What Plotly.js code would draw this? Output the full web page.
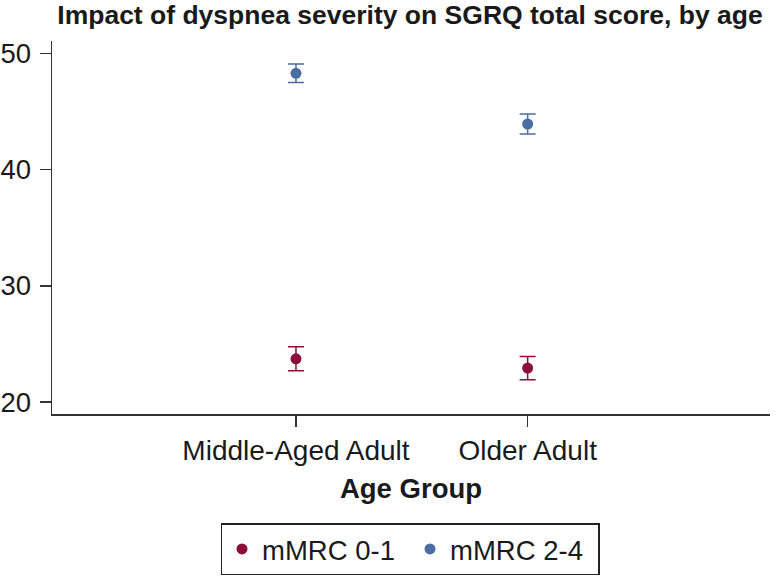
<!DOCTYPE html>
<html>
<head>
<meta charset="utf-8">
<script src="https://cdn.plot.ly/plotly-3.0.1.min.js"></script>
<style>html,body{margin:0;padding:0;background:#fff;}#chart{width:780px;height:577px;}</style>
</head>
<body>
<div id="chart"></div>
<script>
var categories = ["Middle-Aged Adult", "Older Adult"];
var seriesNames = ["mMRC 0-1", "mMRC 2-4"];
var meansLow = [23.72, 22.92];
var errLow = [1.03, 1.0];
var meansHigh = [48.28, 43.92];
var errHigh = [0.8, 0.87];
var yTicks = [20, 30, 40, 50];
var colors = ["#8B0E3B", "#4A6EA3"];

var FONT = "Liberation Sans, Arial, Helvetica, sans-serif";

function mk(name, means, errs, color) {
  return {
    type: "scatter", mode: "markers", name: name,
    x: [0, 1], y: means,
    marker: {color: color, size: 11},
    error_y: {type: "data", array: errs, visible: true, color: color, thickness: 1.5, width: 8},
    hoverinfo: "skip"
  };
}

var data = [
  mk(seriesNames[0], meansLow, errLow, colors[0]),
  mk(seriesNames[1], meansHigh, errHigh, colors[1])
];

var layout = {
  width: 780, height: 577,
  paper_bgcolor: "#fff", plot_bgcolor: "#fff",
  font: {family: FONT, size: 27, color: "#1a1a1a"},
  margin: {l: 52, r: 10, t: 41, b: 163},
  title: {text: "<b>Impact of dyspnea severity on SGRQ total score, by age</b>",
    font: {family: FONT, size: 26.5, color: "#1a1a1a"},
    x: 410/780, xref: "container", xanchor: "center",
    y: 1 - 15/577, yref: "container", yanchor: "middle"},
  xaxis: {
    range: [-1.053, 2.046],
    tickvals: [0, 1], ticktext: categories, tickangle: 0,
    automargin: false,
    showgrid: false, zeroline: false,
    showline: true, linecolor: "#333", linewidth: 1.5,
    ticks: "outside", ticklen: 11, tickwidth: 1.5, tickcolor: "#333",
    tickfont: {family: FONT, size: 28, color: "#1a1a1a"},
    title: {text: "<b>Age Group</b>", font: {family: FONT, size: 27.5, color: "#1a1a1a"}, standoff: 13}
  },
  yaxis: {
    range: [18.97, 51.06],
    tickvals: yTicks, ticktext: yTicks.map(String),
    automargin: false,
    showgrid: false, zeroline: false,
    showline: true, linecolor: "#333", linewidth: 1.5,
    ticks: "outside", ticklen: 11, tickwidth: 1.5, tickcolor: "#333",
    ticklabelstandoff: 3,
    tickfont: {family: FONT, size: 27.5, color: "#1a1a1a"}
  },
  showlegend: true,
  legend: {
    orientation: "h",
    x: 410/780, xref: "container", xanchor: "center",
    y: 1 - 549/577, yref: "container", yanchor: "middle",
    bordercolor: "#222", borderwidth: 1.5,
    font: {family: FONT, size: 27.5, color: "#1a1a1a"},
    itemwidth: 30,
    entrywidth: 143
  }
};

Plotly.newPlot("chart", data, layout, {displayModeBar: false, staticPlot: true});
</script>
</body>
</html>
